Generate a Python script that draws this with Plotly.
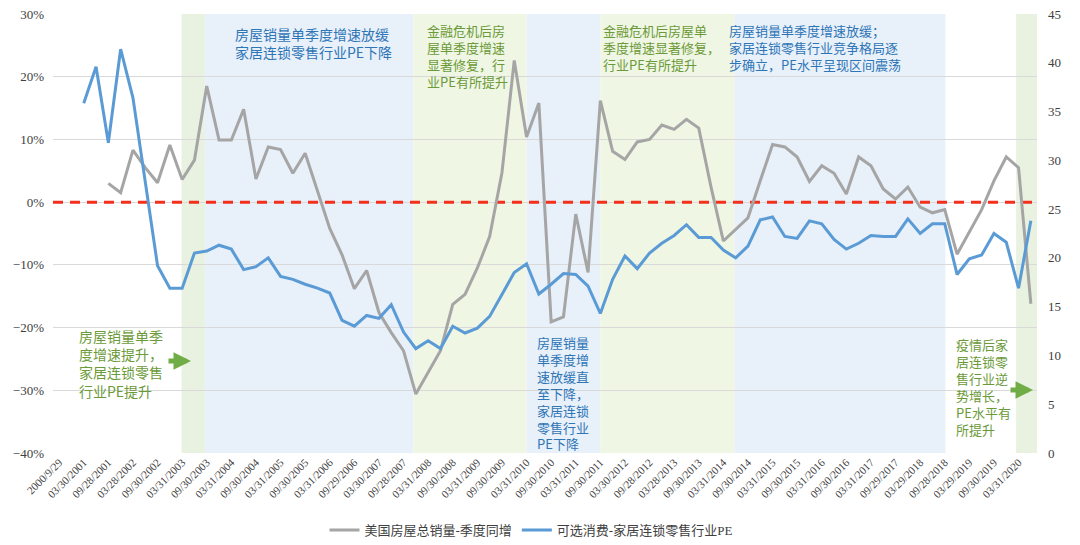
import plotly.graph_objects as go

# ---------------- data ----------------
tick_labels = ["2000/9/29", "03/30/2001", "09/28/2001", "03/28/2002", "09/30/2002", "03/31/2003",
               "09/30/2003", "03/31/2004", "09/30/2004", "03/31/2005", "09/30/2005", "03/31/2006",
               "09/29/2006", "03/30/2007", "09/28/2007", "03/31/2008", "09/30/2008", "03/31/2009",
               "09/30/2009", "03/31/2010", "09/30/2010", "03/31/2011", "09/30/2011", "03/30/2012",
               "09/28/2012", "03/28/2013", "09/30/2013", "03/31/2014", "09/30/2014", "03/31/2015",
               "09/30/2015", "03/31/2016", "09/30/2016", "03/31/2017", "09/29/2017", "03/29/2018",
               "09/28/2018", "03/29/2019", "09/30/2019", "03/31/2020"]

# US total home sales, YoY by quarter (%), 2000Q3 .. 2020Q2
home_sales_yoy = [None, None, None, None,
                  3.0, 1.5, 8.3, 5.5, 3.1, 9.1, 3.6, 6.7, 18.5, 9.9, 9.9, 14.8, 3.7, 8.8, 8.4, 4.6,
                  7.8, 1.8, -4.2, -8.4, -13.8, -10.9, -17.6, -20.8, -23.7, -30.6,
                  -27.1, -23.7, -16.3, -14.7, -10.5, -5.5, 4.7, 22.6, 10.4, 15.8,
                  -19.1, -18.3, -1.9, -11.2, 16.2, 8.1, 6.8, 9.6, 10.0, 12.3,
                  11.6, 13.2, 11.8, 2.4, -6.2, -4.4, -2.5, 3.4, 9.2, 8.8,
                  7.2, 3.3, 5.8, 4.6, 1.3, 7.2, 5.8, 2.1, 0.5, 2.4,
                  -0.8, -1.7, -1.2, -8.3, -4.7, -1.2, 3.4, 7.2, 5.5, -16.2]

# Home furnishing chain retail PE
retail_pe = [None, None,
             35.85, 39.6, 31.8, 41.4, 36.4, 28.0, 19.2, 16.9, 16.9, 20.5, 20.7, 21.3, 20.9, 18.8,
             19.1, 20.0, 18.1, 17.8,
             17.3, 16.9, 16.4, 13.6, 13.0, 14.1, 13.8, 15.2, 12.4, 10.7,
             11.5, 10.7, 13.0, 12.3, 12.8, 14.0, 16.3, 18.5, 19.4, 16.3,
             17.3, 18.4, 18.3, 17.1, 14.3, 17.8, 20.2, 18.9, 20.5, 21.5,
             22.3, 23.4, 22.1, 22.1, 20.8, 20.0, 21.2, 23.9, 24.2, 22.2,
             22.0, 23.8, 23.5, 21.9, 20.9, 21.5, 22.3, 22.2, 22.2, 24.0,
             22.5, 23.5, 23.5, 18.3, 19.9, 20.3, 22.5, 21.6, 16.9, 23.8]

series_names = ["美国房屋总销量-季度同增", "可选消费-家居连锁零售行业PE"]

# shaded periods (in quarter-index units) and their kind
band_starts = [9.95, 11.85, 28.8, 38.0, 44.0, 54.9, 77.8]
band_ends = [11.85, 28.8, 38.0, 44.0, 54.9, 72.05, 79.5]
band_kinds = ["g0", "b", "g", "b", "g", "b", "g0"]

# ---------------- styling ----------------
OFF = 8                      # page body margin in the browser
W, H = 1080 - OFF, 545 - OFF
L, R, T, B = 53 - OFF, 43, 14 - OFF, 92
PW, PH = W - L - R, H - T - B

BLUE_TXT = "#2e75b6"
GREEN_TXT = "#6b9a38"
GREEN_ARROW = "#70ad47"
band_colors = {"g0": "rgba(226,238,214,0.75)", "g": "rgba(240,246,228,1)", "b": "rgba(232,240,250,1)"}
SERIF = "Liberation Serif, Noto Sans CJK SC, serif"
CJK = "Noto Sans CJK SC, sans-serif"


def px_x(px):
    return (px - OFF - L) / PW


def px_y(py):
    return (T + PH - (py - OFF)) / PH


n = len(home_sales_yoy)
x = list(range(n))

fig = go.Figure()

# zero reference line
fig.add_trace(go.Scatter(x=[-0.5, n - 0.5], y=[0, 0], mode="lines",
                         line=dict(color="#f4301c", width=3, dash="10px,7px"),
                         showlegend=False, hoverinfo="skip"))

fig.add_trace(go.Scatter(x=x, y=home_sales_yoy, mode="lines", name=series_names[0],
                         line=dict(color="#a5a5a5", width=3), connectgaps=False))
fig.add_trace(go.Scatter(x=x, y=retail_pe, mode="lines", name=series_names[1], yaxis="y2",
                         line=dict(color="#5b9bd5", width=3), connectgaps=False))

shapes = []
for s, e, k in zip(band_starts, band_ends, band_kinds):
    shapes.append(dict(type="rect", xref="x", yref="paper", x0=s, x1=e, y0=0, y1=1,
                       fillcolor=band_colors[k], line=dict(width=0), layer="below"))

annotations = []


def add_text(text, px, py, color, size):
    annotations.append(dict(text=text, xref="paper", yref="paper", x=px_x(px), y=px_y(py),
                            xanchor="left", yanchor="top", align="left", showarrow=False,
                            font=dict(family=CJK, size=size, color=color)))


add_text("房屋销量单季度增速放缓<br>家居连锁零售行业PE下降", 233, 22, BLUE_TXT, 14)
add_text("金融危机后房<br>屋单季度增速<br>显著修复，行<br>业PE有所提升", 425, 19, GREEN_TXT, 13)
add_text("金融危机后房屋单<br>季度增速显著修复，<br>行业PE有所提升", 601, 19, GREEN_TXT, 13)
add_text("房屋销量单季度增速放缓；<br>家居连锁零售行业竞争格局逐<br>步确立，PE水平呈现区间震荡", 727, 19, BLUE_TXT, 13)
add_text("房屋销量单季<br>度增速提升，<br>家居连锁零售<br>行业PE提升", 77, 324, GREEN_TXT, 14)
add_text("房屋销量<br>单季度增<br>速放缓直<br>至下降，<br>家居连锁<br>零售行业<br>PE下降", 535, 331, BLUE_TXT, 13)
add_text("疫情后家<br>居连锁零<br>售行业逆<br>势增长，<br>PE水平有<br>所提升", 954, 333, GREEN_TXT, 13)

for hx, hy in [(191, 361), (1033, 390)]:
    annotations.append(dict(xref="paper", yref="paper", x=px_x(hx), y=px_y(hy),
                            axref="pixel", ayref="pixel", ax=-24, ay=0, text="",
                            showarrow=True, arrowhead=2, arrowsize=0.7, arrowwidth=5,
                            arrowcolor=GREEN_ARROW))

fig.update_layout(
    width=W, height=H,
    margin=dict(l=L, r=R, t=T, b=B, autoexpand=False),
    paper_bgcolor="white", plot_bgcolor="white",
    font=dict(family=SERIF, size=13, color="#404040"),
    shapes=shapes, annotations=annotations,
    showlegend=True,
    legend=dict(orientation="h", x=px_x(531), xanchor="center", y=px_y(530), yanchor="middle",
                font=dict(family=SERIF, size=13, color="#404040"), itemwidth=30),
    xaxis=dict(range=[-0.5, n - 0.5], tickmode="array", automargin=False,
               tickvals=list(range(0, 2 * len(tick_labels), 2)), ticktext=tick_labels,
               tickangle=-45, tickfont=dict(family=SERIF, size=11, color="#404040"),
               showgrid=False, zeroline=False, showline=False, ticks=""),
    yaxis=dict(range=[-40, 30], dtick=10, ticksuffix="%", showgrid=True, gridcolor="#d9d9d9",
               gridwidth=1, zeroline=False, showline=False, ticks="", automargin=False,
               ticklabeloverflow="allow",
               tickfont=dict(family=SERIF, size=13, color="#404040"), ticklabelstandoff=8),
    yaxis2=dict(range=[0, 45], dtick=5, overlaying="y", side="right", showgrid=False,
                zeroline=False, showline=False, ticks="", automargin=False,
                ticklabeloverflow="allow",
                tickfont=dict(family=SERIF, size=13, color="#404040"), ticklabelstandoff=10),
)

fig.write_html("out.html")
